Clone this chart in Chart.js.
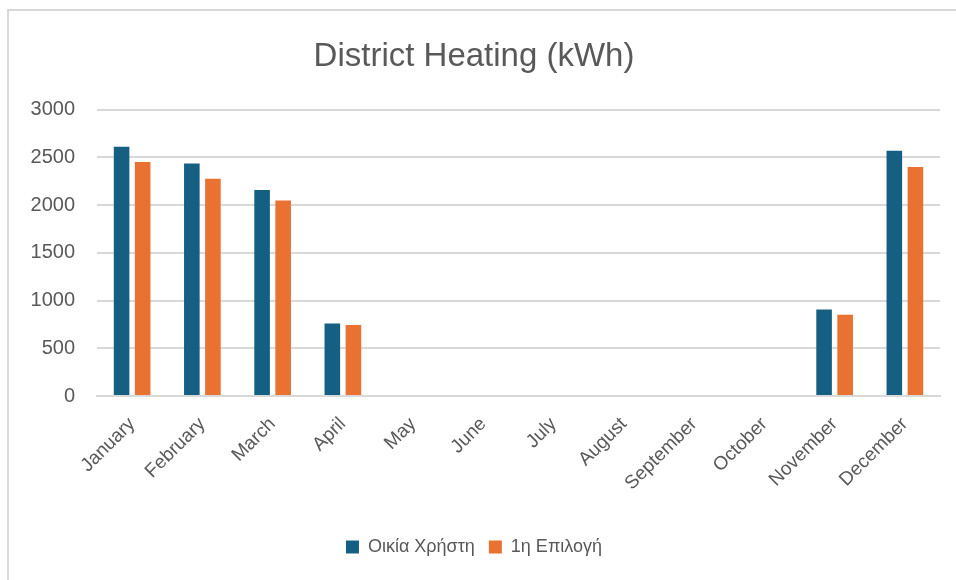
<!DOCTYPE html>
<html>
<head>
<meta charset="utf-8">
<script src="https://cdn.jsdelivr.net/npm/chart.js@4.4.1/dist/chart.umd.min.js"></script>
<style>
  html, body { margin: 0; padding: 0; background: #ffffff; }
  #wrap { position: relative; width: 956px; height: 580px; }
</style>
</head>
<body>
<div id="wrap"><canvas id="c" width="956" height="580"></canvas></div>
<script>
// Monthly district heating consumption (kWh)
const months = ['January', 'February', 'March', 'April', 'May', 'June',
  'July', 'August', 'September', 'October', 'November', 'December'];
const userHome = [2610, 2436, 2158, 760, 0, 0, 0, 0, 0, 0, 905, 2570];
const firstOption = [2450, 2276, 2049, 745, 0, 0, 0, 0, 0, 0, 850, 2399];
const yTicks = [0, 500, 1000, 1500, 2000, 2500, 3000];

const seriesNames = ['Οικία Χρήστη', '1η Επιλογή'];
const seriesColors = ['#156082', '#E97132'];
const textColor = '#595959';

// Light frame along the top and left edges of the chart box
const framePlugin = {
  id: 'frame',
  beforeDraw(chart) {
    const ctx = chart.ctx;
    ctx.save();
    ctx.fillStyle = '#ffffff';
    ctx.fillRect(0, 0, chart.width, chart.height);
    ctx.strokeStyle = '#d9d9d9';
    ctx.lineWidth = 2;
    ctx.beginPath();
    ctx.moveTo(8, chart.height);
    ctx.lineTo(8, 10);
    ctx.lineTo(chart.width, 10);
    ctx.stroke();
    ctx.restore();
  }
};

new Chart(document.getElementById('c'), {
  type: 'bar',
  data: {
    labels: months,
    datasets: [
      { label: seriesNames[0], data: userHome, backgroundColor: seriesColors[0] },
      { label: seriesNames[1], data: firstOption, backgroundColor: seriesColors[1] }
    ]
  },
  plugins: [framePlugin],
  options: {
    responsive: false,
    animation: false,
    devicePixelRatio: 1,
    layout: { padding: { left: 8, right: 16, top: 0, bottom: 14 } },
    datasets: { bar: { categoryPercentage: 0.6, barPercentage: 0.74 } },
    plugins: {
      title: {
        display: true,
        text: 'District Heating (kWh)',
        color: textColor,
        font: { family: '"Liberation Sans", Arial, sans-serif', size: 33, weight: 'normal' },
        padding: { top: 37, bottom: 33 }
      },
      legend: {
        position: 'bottom',
        labels: {
          color: textColor,
          font: { family: '"Liberation Sans", Arial, sans-serif', size: 18 },
          boxWidth: 13,
          boxHeight: 13,
          padding: 14
        }
      },
      tooltip: { enabled: false }
    },
    scales: {
      x: {
        grid: { display: false },
        border: { display: true, color: '#d9d9d9', width: 2 },
        ticks: {
          color: textColor,
          font: { family: '"Liberation Sans", Arial, sans-serif', size: 19 },
          minRotation: 45,
          maxRotation: 45,
          padding: 9
        },
        afterFit(s) { s.height = 128; }
      },
      y: {
        min: 0,
        max: 3000,
        afterBuildTicks(s) { s.ticks = yTicks.map(v => ({ value: v })); },
        grid: { color: '#d9d9d9', lineWidth: 2, drawTicks: false },
        border: { display: false },
        ticks: {
          color: textColor,
          font: { family: '"Liberation Sans", Arial, sans-serif', size: 20 },
          padding: 22,
          callback: v => String(v)
        },
        afterFit(s) { s.width = 89; }
      }
    }
  }
});
</script>
</body>
</html>
